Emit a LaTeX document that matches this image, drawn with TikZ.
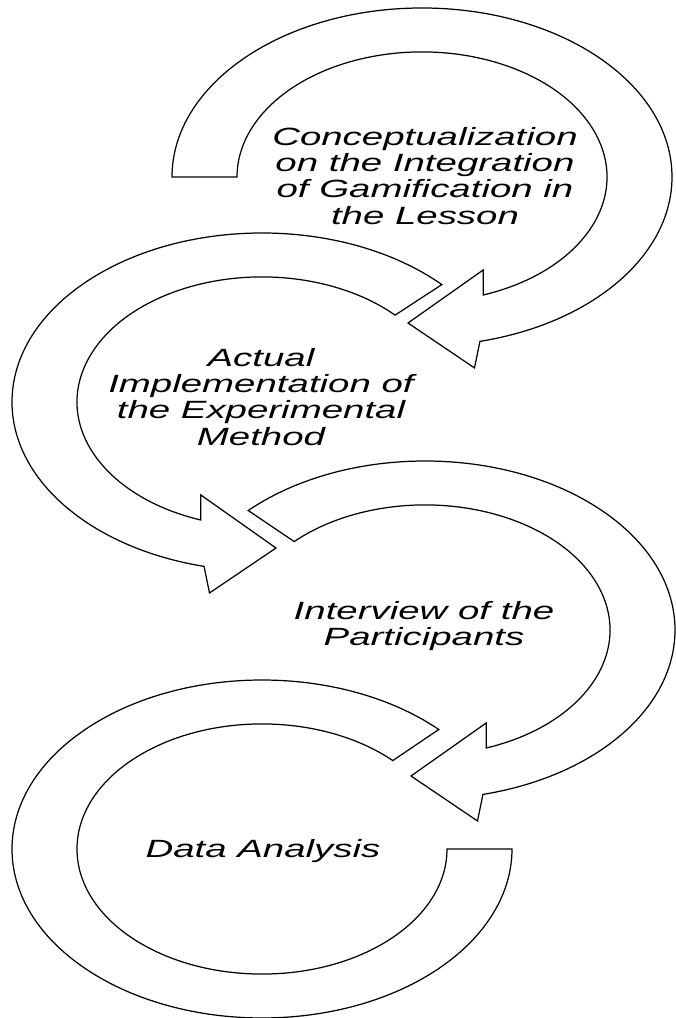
\documentclass[tikz,border=0pt]{standalone}
\usepackage{fontspec}
\setmainfont{Liberation Sans}
\newcommand\cwband[1]{%
  \path[band] (#1:1) arc[start angle=#1, end angle=-76.6, radius=1]
    -- (0.21,-1.13) -- (-0.056,-0.864) -- (0.245,-0.55)
    -- (-70.7:0.74) arc[start angle=-70.7, end angle=#1, radius=0.74] -- cycle;}
\tikzset{
  band/.style={draw=black, fill=white, line width=0.7pt, line join=miter},
  lbl/.style={font=\fontsize{14.2}{14.9}\selectfont\itshape, align=center, xscale=1.54, inner sep=0pt, text=black}
}
\begin{document}
\begin{tikzpicture}[x=0.02cm, y=0.02cm]
\useasboundingbox[fill=white] (0,0) rectangle (676,1018);
% shape 4: Data Analysis (no head)
\begin{scope}[shift={(262,169)}, xscale=250, yscale=169]
  \path[band] (45:1) arc[start angle=45, end angle=360, radius=1]
    -- (0:0.74) arc[start angle=360, end angle=45, radius=0.74] -- cycle;
\end{scope}
% shape 3: Interview
\begin{scope}[shift={(425,388)}, xscale=250, yscale=169]
  \cwband{135}
\end{scope}
% shape 2: Actual implementation (mirrored)
\begin{scope}[shift={(262,616)}, xscale=-250, yscale=169]
  \cwband{136}
\end{scope}
% shape 1: Conceptualization
\begin{scope}[shift={(422,841)}, xscale=250, yscale=169]
  \cwband{180}
\end{scope}
\node[lbl] (t1) at (425,842) {Conceptualization\\on the Integration\\of Gamification in\\the Lesson};
\node[lbl] (t2) at (261,621) {Actual\\Implementation of\\the Experimental\\Method};
\node[lbl] (t3) at (424,392) {Interview of the\\Participants};
\node[lbl] (t4) at (263,167) {Data Analysis};
\end{tikzpicture}
\end{document}
